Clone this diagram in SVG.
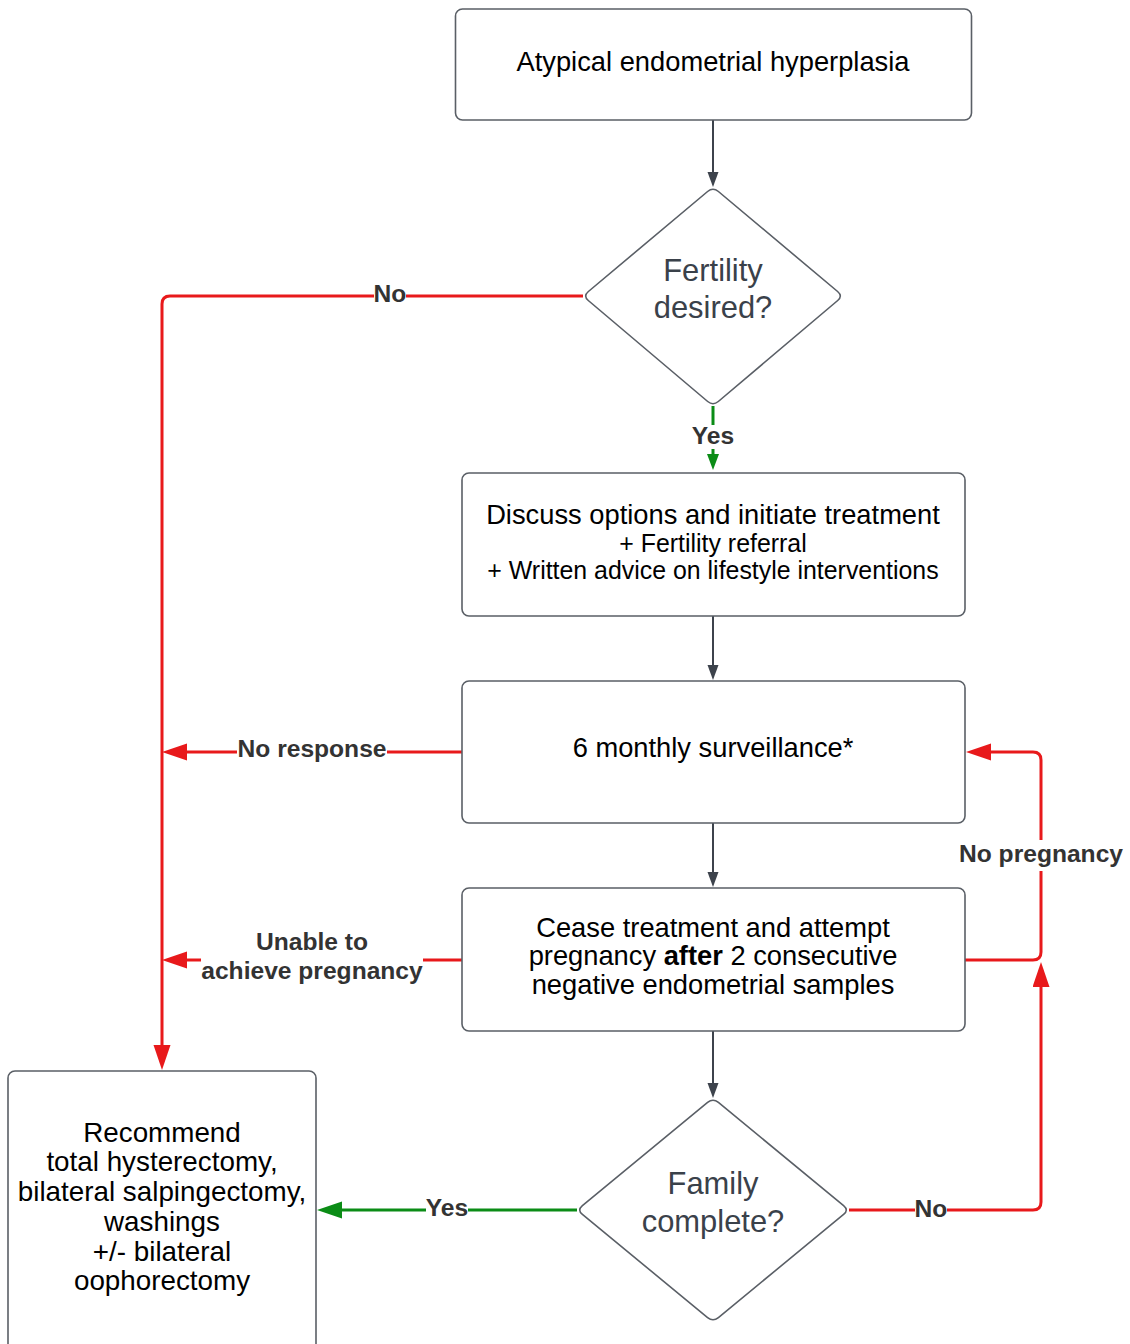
<svg xmlns="http://www.w3.org/2000/svg" width="1130" height="1344" viewBox="0 0 1130 1344">
<style>
.box{fill:#ffffff;stroke:#5a5f66;stroke-width:1.6}
.t{font-family:"Liberation Sans",Arial,sans-serif;font-size:27.3px;fill:#000;text-anchor:middle}
.s{font-size:24.9px}
.l{font-size:27.8px}
.dt{font-family:"Liberation Sans",Arial,sans-serif;font-size:30.9px;fill:#3a414a;text-anchor:middle}
.lb{font-family:"Liberation Sans",Arial,sans-serif;font-size:24.6px;font-weight:bold;fill:#333;text-anchor:middle}
.dk{fill:none;stroke:#3d434c;stroke-width:2}
.rd{fill:none;stroke:#e8191b;stroke-width:3}
.gr{fill:none;stroke:#0b8c16;stroke-width:3}
</style>
<defs>
<marker id="aDark" markerUnits="userSpaceOnUse" markerWidth="16" markerHeight="12" refX="0" refY="5.5" orient="auto"><path d="M0,0 L15,5.5 L0,11 z" fill="#3d434c"/></marker>
<marker id="aRed" markerUnits="userSpaceOnUse" markerWidth="26" markerHeight="18" refX="0" refY="8.5" orient="auto"><path d="M0,0 L25,8.5 L0,17 z" fill="#e8191b"/></marker>
<marker id="aGreen" markerUnits="userSpaceOnUse" markerWidth="26" markerHeight="18" refX="0" refY="8.5" orient="auto"><path d="M0,0 L25,8.5 L0,17 z" fill="#0b8c16"/></marker>
<marker id="aGreenS" markerUnits="userSpaceOnUse" markerWidth="17" markerHeight="13" refX="0" refY="6" orient="auto"><path d="M0,0 L16,6 L0,12 z" fill="#0b8c16"/></marker>
</defs>
<rect width="1130" height="1344" fill="#ffffff"/>

<g id="connectors">
<path class="dk" d="M713,120 V172" marker-end="url(#aDark)"/>
<path class="gr" d="M713,406 V425"/>
<path class="gr" d="M713,449 V454" marker-end="url(#aGreenS)"/>
<path class="dk" d="M713,616 V665" marker-end="url(#aDark)"/>
<path class="dk" d="M713,823 V872" marker-end="url(#aDark)"/>
<path class="dk" d="M713,1031 V1083" marker-end="url(#aDark)"/>
<path class="rd" d="M583,296 H406"/>
<path class="rd" d="M374,296 H170 Q162,296 162,304 V1045" marker-end="url(#aRed)"/>
<path class="rd" d="M462,752 H387"/>
<path class="rd" d="M237,752 H187" marker-end="url(#aRed)"/>
<path class="rd" d="M462,960 H423"/>
<path class="rd" d="M201,960 H187" marker-end="url(#aRed)"/>
<path class="gr" d="M577,1210 H468"/>
<path class="gr" d="M426,1210 H342" marker-end="url(#aGreen)"/>
<path class="rd" d="M849,1210 H915"/>
<path class="rd" d="M947,1210 H1033 Q1041,1210 1041,1202 V987" marker-end="url(#aRed)"/>
<path class="rd" d="M965,960 H1033 Q1041,960 1041,952 V871"/>
<path class="rd" d="M1041,840 V760 Q1041,752 1033,752 H991" marker-end="url(#aRed)"/>
<text class="lb" x="390" y="302">No</text>
<text class="lb" x="713" y="444">Yes</text>
<text class="lb" x="312" y="757">No response</text>
<text class="lb" x="312" y="950">Unable to</text>
<text class="lb" x="312" y="979">achieve pregnancy</text>
<text class="lb" x="1041" y="862">No pregnancy</text>
<text class="lb" x="447" y="1216">Yes</text>
<text class="lb" x="931" y="1217">No</text>
</g>

<g id="node-start">
<rect class="box" x="455.5" y="9" width="516" height="111" rx="7"/>
<text class="t" x="713" y="71">Atypical endometrial hyperplasia</text>
</g>

<g id="node-fertility">
<path class="box" d="M718.4,191.5 L837.6,291.5 Q843,296 837.7,300.5 L718.3,401.5 Q713,406 707.7,401.5 L588.3,300.5 Q583,296 588.4,291.5 L707.6,191.5 Q713,187 718.4,191.5 Z"/>
<text class="dt" x="713" y="281">Fertility</text>
<text class="dt" x="713" y="318">desired?</text>
</g>

<g id="node-discuss">
<rect class="box" x="462" y="473" width="503" height="143" rx="7"/>
<text class="t" x="713" y="524">Discuss options and initiate treatment</text>
<text class="t s" x="713" y="552">+ Fertility referral</text>
<text class="t s" x="713" y="579">+ Written advice on lifestyle interventions</text>
</g>

<g id="node-surveillance">
<rect class="box" x="462" y="681" width="503" height="142" rx="7"/>
<text class="t" x="713" y="757">6 monthly surveillance*</text>
</g>

<g id="node-cease">
<rect class="box" x="462" y="888" width="503" height="143" rx="7"/>
<text class="t" x="713" y="937">Cease treatment and attempt</text>
<text class="t" x="713" y="965">pregnancy <tspan font-weight="bold">after</tspan> 2 consecutive</text>
<text class="t" x="713" y="994">negative endometrial samples</text>
</g>

<g id="node-family">
<path class="box" d="M718.4,1102.45 L843.6,1205.55 Q849,1210 843.6,1214.45 L718.4,1317.55 Q713,1322 707.6,1317.55 L582.4,1214.45 Q577,1210 582.4,1205.55 L707.6,1102.45 Q713,1098 718.4,1102.45 Z"/>
<text class="dt" x="713" y="1194">Family</text>
<text class="dt" x="713" y="1232">complete?</text>
</g>

<g id="node-recommend">
<rect class="box" x="8" y="1071" width="308" height="300" rx="7"/>
<text class="t l" x="162" y="1142">Recommend</text>
<text class="t l" x="162" y="1171">total hysterectomy,</text>
<text class="t l" x="162" y="1201">bilateral salpingectomy,</text>
<text class="t l" x="162" y="1231">washings</text>
<text class="t l" x="162" y="1261">+/- bilateral</text>
<text class="t l" x="162" y="1290">oophorectomy</text>
</g>
</svg>
